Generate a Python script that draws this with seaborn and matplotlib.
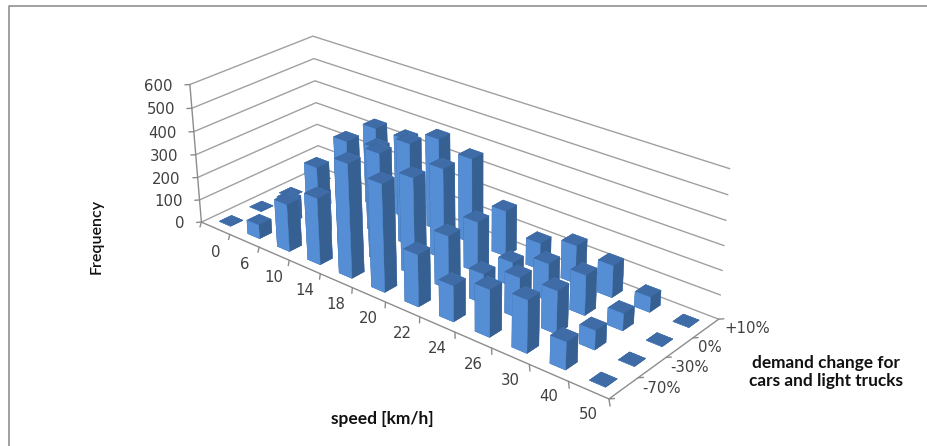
import numpy as np
import matplotlib
matplotlib.use("Agg")
import matplotlib.pyplot as plt
from matplotlib.lines import Line2D
from mpl_toolkits.mplot3d import proj3d
import seaborn as sns

speeds = ["0", "6", "10", "14", "18", "20", "22", "24", "26", "30", "40", "50"]
demand = ["-70%", "-30%", "0%", "+10%"]
freq_ticks = [0, 100, 200, 300, 400, 500, 600]

# frequency per speed class, one list per demand scenario
freq_m70 = [0, 60, 205, 285, 480, 450, 218, 150, 195, 215, 113, 0]
freq_m30 = [0, 100, 300, 460, 460, 410, 225, 125, 170, 177, 78, 0]
freq_0 = [0, 60, 290, 370, 440, 385, 215, 100, 155, 167, 70, 0]
freq_p10 = [0, 30, 350, 350, 400, 365, 195, 113, 160, 135, 62, 0]
freq_rows = [freq_m70, freq_m30, freq_0, freq_p10]

W, H = 927, 446
sns.set_style("white")
plt.rcParams["font.family"] = ["DejaVu Sans"]

TXT = "#404040"
LINE = "#8c8c8c"
GRID = "#a0a0a0"
# bottom, top, front, back, left, right
BAR = ["#3f6ca6", "#3f6ca6", "#558ed5", "#558ed5", "#376092", "#376092"]

fig = plt.figure(figsize=(W / 100, H / 100), dpi=100)
# camera fitted to the corners of the original chart
ax = fig.add_axes([150.15 / W, -45.95 / H, 573.32 / W, 573.32 / H], projection="3d")
ax.set_xlim(0, len(speeds))
ax.set_ylim(0, len(demand))
ax.set_zlim(0, 600)
ax.view_init(elev=26.406, azim=-49.073, roll=0.612)
ax.set_proj_type("persp", focal_length=0.5374)
ax.set_box_aspect((2.9797, 1, 0.8873))
ax.set_axis_off()
ax.patch.set_alpha(0)
ax.computed_zorder = False

nx, ny = len(speeds), len(demand)

# wall gridlines
for z in freq_ticks:
    ax.plot([0, 0, nx], [0, ny, ny], [z, z, z], color=GRID, lw=1, zorder=1, clip_on=False)
    ax.plot([0, -0.0064 * nx], [0, -0.0207 * ny], [z, z], color=LINE, lw=1, zorder=1, clip_on=False)
ax.plot([0, 0], [0, 0], [0, 600], color=LINE, lw=1, zorder=2, clip_on=False)
ax.plot([0, nx, nx], [0, 0, ny], [0, 0, 0], color=LINE, lw=1, zorder=2, clip_on=False)
for k in range(nx + 1):
    ax.plot([k, k + 0.0138 * nx], [0, -0.048 * ny], [0, 0], color=LINE, lw=1, zorder=2, clip_on=False)
for k in range(ny + 1):
    ax.plot([nx, nx + 0.0064 * nx], [k, k + 0.0207 * ny], [0, 0], color=LINE, lw=1, zorder=2, clip_on=False)

# bars back to front so the tall ones overlap properly
bw = 0.4
order = 10
for j in range(ny - 1, -1, -1):
    for i in range(nx):
        c = ax.bar3d(i + 0.5 - bw / 2, j + 0.5 - bw / 2, 0, bw, bw, freq_rows[j][i],
                     color=BAR, edgecolor=BAR, linewidth=0.3, shade=False, zsort="average")
        c.set_zorder(order)
        order += 1


def to2d(x, y, z):
    u, v, _ = proj3d.proj_transform(x, y, z, ax.get_proj())
    return float(u), float(v)


for z in freq_ticks:
    ax.annotate(str(z), to2d(0, 0, z), xytext=(-17, -1.5), textcoords="offset pixels",
                ha="right", va="center", fontsize=10.7, color=TXT)
for i, s in enumerate(speeds):
    ax.annotate(s, to2d(i + 0.5, 0, 0), xytext=(0, -24), textcoords="offset pixels",
                ha="center", va="center", fontsize=10.7, color=TXT)
for j, d in enumerate(demand):
    ax.annotate(d, to2d(nx, j + 0.5, 0), xytext=(18.5, 0), textcoords="offset pixels",
                ha="left", va="center", fontsize=10.7, color=TXT)

# axis titles and the chart frame (left and top edge only, the rest is cropped away)
fig.text(97 / W, 1 - 236 / H, "Frequency", rotation=90, ha="center", va="center",
         fontsize=11.5, fontweight="semibold", family="Lato", color="#111111")
fig.text(382 / W, 1 - 419 / H, "speed [km/h]", ha="center", va="center",
         fontsize=12.5, fontweight="bold", family="Lato", color="#111111")
fig.text(826 / W, 1 - 372 / H, "demand change for\ncars and light trucks", ha="center",
         va="center", fontsize=12.4, fontweight="bold", family="Lato", color="#111111",
         linespacing=1.1)
fig.add_artist(Line2D([8.5 / W, 8.5 / W, 1], [0, 1 - 5.5 / H, 1 - 5.5 / H], color="#909090",
                      lw=1.2, transform=fig.transFigure))

fig.savefig("out.png", dpi=100)
